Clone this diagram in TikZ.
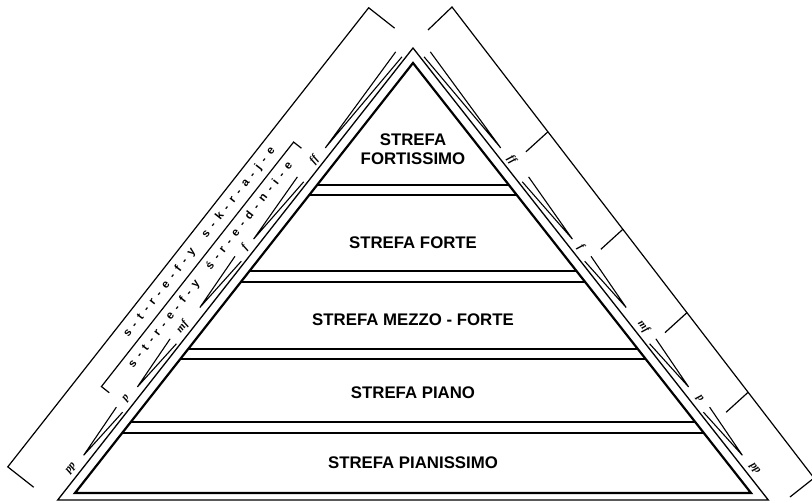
\documentclass[tikz,border=0pt]{standalone}
\usepackage{fontspec}
\setmainfont{Liberation Sans}
\newfontfamily\dynfont{Liberation Serif}
\usetikzlibrary{calc}
\newcommand\hpin[2]{\draw[hairpinline] (#2,20.5) -- (#1,16.5) -- (#2,12.5);}
\begin{document}
\begin{tikzpicture}[x=1pt,y=1pt,
  zonetext/.style={font=\fontsize{16.8}{18}\selectfont\bfseries, align=center, inner sep=0pt},
  dyn/.style={font=\dynfont\fontsize{11}{11}\selectfont\bfseries\itshape, inner sep=0pt},
  bractext/.style={font=\fontsize{11.5}{11.5}\selectfont\bfseries, inner sep=0pt},
  edgeline/.style={line width=2.2pt, line join=miter},
  outline/.style={line width=1.3pt, line join=miter},
  bracketline/.style={line width=1.2pt},
  bandline/.style={line width=1.8pt},
  hairpinline/.style={line width=1.1pt},
]
\useasboundingbox (0,0) rectangle (812,503);
\clip (0,0) rectangle (812,503);

% pyramid
\coordinate (A) at (413,440);
\coordinate (BL) at (75,10);
\coordinate (BR) at (751,10);
\coordinate (OA) at (413,455);
\coordinate (OL) at (57.7,3);
\coordinate (OR) at (768.3,3);

\begin{scope}
  \clip (BL) -- (A) -- (BR) -- cycle;
  \foreach \yy in {318,308,232,221,154,144,81,70}
    \draw[bandline] (0,\yy) -- (812,\yy);
\end{scope}
\draw[edgeline] (BL) -- (A) -- (BR) -- cycle;
\draw[outline] (OL) -- (OA) -- (OR) -- cycle;

% zone labels
\node[zonetext] (zff) at (413,354) {STREFA\\[0.5pt]FORTISSIMO};
\node[zonetext] (zf) at (413,260) {STREFA FORTE};
\node[zonetext] (zmf) at (413,183) {STREFA MEZZO - FORTE};
\node[zonetext] (zp) at (413,110) {STREFA PIANO};
\node[zonetext] (zpp) at (413,40) {STREFA PIANISSIMO};

% left side
\begin{scope}[shift={(BL)}, rotate=51.83]
  \draw[bracketline] (-21,36) -- (-21,69) -- (563,69) -- (563,36);
  \draw[bracketline] (100,35) -- (100,45) -- (411,45) -- (411,35);
  \node[bractext, rotate=51.83] (skraje) at (274,57)
    {\makebox[238pt]{s\hfill-\hfill t\hfill-\hfill r\hfill-\hfill e\hfill-\hfill f\hfill-\hfill y\hfill\hfill\hfill s\hfill-\hfill k\hfill-\hfill r\hfill-\hfill a\hfill-\hfill j\hfill-\hfill e}};
  \node[bractext, rotate=51.83] (srednie) at (263,34)
    {\makebox[258pt]{s\hfill-\hfill t\hfill-\hfill r\hfill-\hfill e\hfill-\hfill f\hfill-\hfill y\hfill\hfill\hfill ś\hfill-\hfill r\hfill-\hfill e\hfill-\hfill d\hfill-\hfill n\hfill-\hfill i\hfill-\hfill e}};
  \node[dyn, rotate=51.83] (lpp) at (17,18) {pp};
  \node[dyn, rotate=51.83] (lp) at (106,18) {p};
  \node[dyn, rotate=51.83] (lmf) at (197,18) {mf};
  \node[dyn, rotate=51.83] (lf) at (298,18) {f};
  \node[dyn, rotate=51.83] (lff) at (410,18) {ff};
  \hpin{35}{93}
  \hpin{122}{180}
  \hpin{223}{285}
  \hpin{310}{386}
  \hpin{426}{545}
\end{scope}

% right side
\begin{scope}[shift={(BR)}, rotate=128.17, yscale=-1]
  \node[dyn, rotate=-51.83] (rpp) at (17,18) {pp};
  \node[dyn, rotate=-51.83] (rp) at (106,18) {p};
  \node[dyn, rotate=-51.83] (rmf) at (197,18) {mf};
  \node[dyn, rotate=-51.83] (rf) at (298,18) {f};
  \node[dyn, rotate=-51.83] (rff) at (410,18) {ff};
  \hpin{35}{93}
  \hpin{122}{180}
  \hpin{223}{285}
  \hpin{310}{386}
  \hpin{426}{545}
\end{scope}

\coordinate (RT) at (452,496);
\coordinate (RB) at (814,25);
\draw[bracketline] ($(RT)+(-24,-23)$) -- (RT) -- (RB) -- ++(-24,-19);
\foreach \t in {0.265,0.472,0.649,0.818}
  \draw[bracketline] ($(RT)!\t!(RB)$) -- ++(-22,-20);
\end{tikzpicture}
\end{document}
